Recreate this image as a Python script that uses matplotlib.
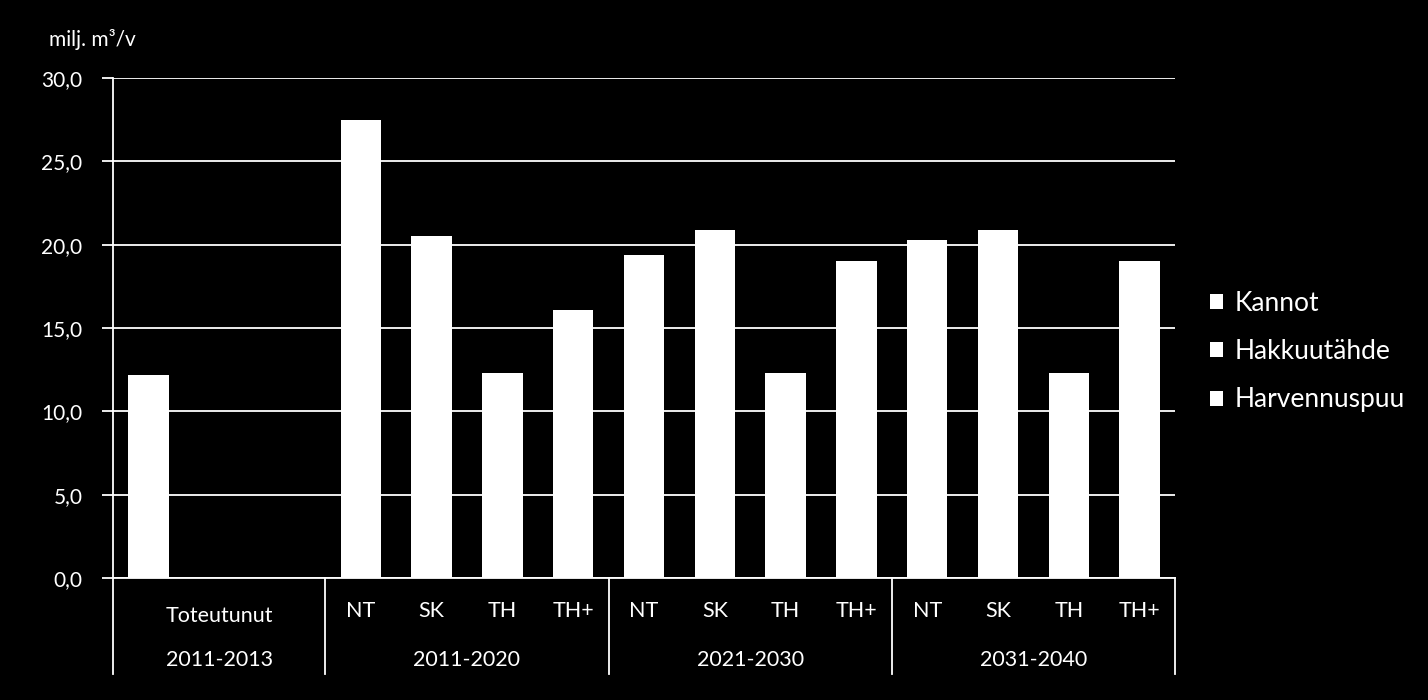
import matplotlib
matplotlib.use("Agg")
import matplotlib.pyplot as plt
import numpy as np
from matplotlib.ticker import FuncFormatter

plt.rcParams['font.family'] = ['Lato', 'DejaVu Sans']

scenarios = ["Toteutunut", "NT", "SK", "TH", "TH+", "NT", "SK", "TH", "TH+", "NT", "SK", "TH", "TH+"]
periods = ["2011-2013", "2011-2020", "2021-2030", "2031-2040"]
kannot =       [1.0, 4.5, 2.5, 1.0, 2.0, 3.5, 3.5, 1.0, 2.5, 3.5, 3.5, 1.0, 2.5]
hakkuutahde =  [3.5, 9.0, 7.5, 4.0, 6.0, 7.4, 7.9, 4.0, 7.0, 7.8, 7.9, 4.0, 7.0]
harvennuspuu = [7.7, 14.0, 10.5, 7.3, 8.1, 8.5, 9.5, 7.3, 9.5, 9.0, 9.5, 7.3, 9.5]
series_names = ["Kannot", "Hakkuutähde", "Harvennuspuu"]
yticks = [0, 5, 10, 15, 20, 25, 30]

# slot positions: Toteutunut occupies first of 3 slots, then 3 groups of 4
pos = np.array([0, 3, 4, 5, 6, 7, 8, 9, 10, 11, 12, 13, 14], dtype=float)
group_bounds = [(-0.5, 2.5), (2.5, 6.5), (6.5, 10.5), (10.5, 14.5)]

fig = plt.figure(figsize=(14.28, 7.0), dpi=100, facecolor='black')
ax = fig.add_axes([113/1428, 1-578/700, (1175-113)/1428, 500/700])
ax.set_facecolor('black')

w = 0.57
bottom = np.zeros(len(pos))
handles = []
for name, vals in zip(series_names, [kannot, hakkuutahde, harvennuspuu]):
    b = ax.bar(pos, vals, width=w, bottom=bottom, color='white', edgecolor='none', label=name, zorder=3)
    handles.append(b)
    bottom += np.array(vals)

ax.set_xlim(-0.5, 14.5)
ax.set_ylim(0, 30)
ax.set_yticks(yticks)
ax.yaxis.set_major_formatter(FuncFormatter(lambda v, p: f"{v:.1f}".replace('.', ',')))
ax.grid(axis='y', color='white', linewidth=1.3, zorder=0)
ax.tick_params(axis='y', colors='white', labelsize=15, length=8, width=1.3, pad=14, direction='out')
ax.tick_params(axis='x', bottom=False, labelbottom=False)
for s in ['top', 'right', 'bottom']:
    ax.spines[s].set_visible(False)
ax.spines['left'].set_color('white')
ax.spines['left'].set_linewidth(1.3)
ax.spines['left'].set_bounds(0, 30)

trans = ax.get_xaxis_transform()
sep_y = -96/500
# left axis extension & separators
for x in [-0.5, 2.5, 6.5, 10.5, 14.5]:
    ax.plot([x, x], [0, sep_y], transform=trans, color='white', lw=1.3, clip_on=False)
ax.plot([-0.5, 14.5], [0, 0], transform=trans, color='white', lw=1.3, clip_on=False, zorder=4)

# category labels
for i, (p, lab) in enumerate(zip(pos, scenarios)):
    if lab == "Toteutunut":
        ax.text(1.0, -38/500, lab, transform=trans, ha='center', va='center', color='white', fontsize=15.5)
    else:
        ax.text(p, -33/500, lab, transform=trans, ha='center', va='center', color='white', fontsize=15.5)
for (a, b), per in zip(group_bounds, periods):
    ax.text((a+b)/2, -82/500, per, transform=trans, ha='center', va='center', color='white', fontsize=15.5)

ax.text(49/1428, 1-40/700, "milj. m³/v", transform=fig.transFigure, ha='left', va='center',
        color='white', fontsize=15)

leg = fig.legend(handles=handles, labels=series_names, loc='upper left',
                 bbox_to_anchor=(1210/1428, 1-291/700), frameon=False, fontsize=19,
                 labelcolor='white', handlelength=0.5, handleheight=0.5, handletextpad=0.45,
                 labelspacing=0.88, borderaxespad=0, borderpad=0)

fig.savefig("out.png", dpi=100, facecolor='black')
